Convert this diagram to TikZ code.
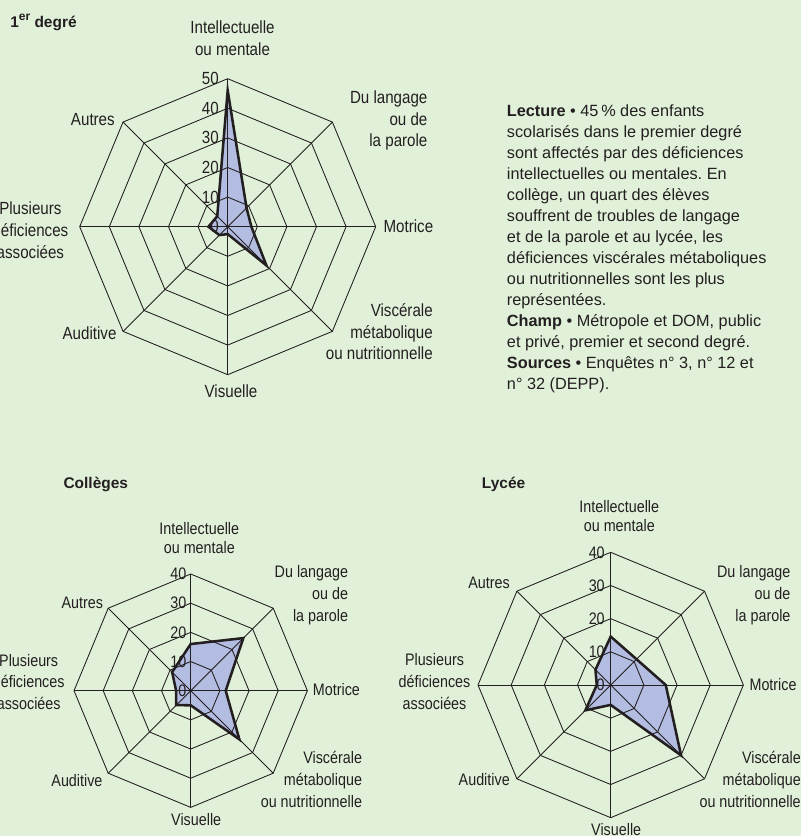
\documentclass[tikz,border=0pt]{standalone}
\usepackage{fontspec}
\setmainfont{Liberation Sans}
\newfontfamily\narrowfont[FakeStretch=0.86]{Liberation Sans}
\frenchspacing
\usetikzlibrary{positioning}
\definecolor{bggreen}{HTML}{E1F1D9}
\definecolor{radarfill}{HTML}{B3BCE1}
\definecolor{ink}{HTML}{231F20}
\tikzset{web/.style = {draw = ink, line width = 0.65pt, line join = miter}}
\tikzset{dataline/.style = {draw = ink, line width = 1.9pt, line join = miter}}
\tikzset{areafill/.style = {fill = radarfill}}
\tikzset{lblA/.style = {font = \narrowfont\fontsize{13.2}{16.3}\selectfont, text = ink, inner sep = 0}}
\tikzset{lblB/.style = {font = \narrowfont\fontsize{12.5}{16.3}\selectfont, text = ink, inner sep = 0}}
\tikzset{lblBtight/.style = {lblB, font = \narrowfont\fontsize{12.5}{13.6}\selectfont}}
\tikzset{ticklbl/.style = {anchor = east, inner ysep = 0}}
\tikzset{charttitle/.style = {font = \bfseries\fontsize{11.6}{14}\selectfont, text = ink, inner sep = 0, anchor = base west}}
\tikzset{readbox/.style = {font = \fontsize{12.2}{15.75}\selectfont, text = ink, align = left, inner sep = 0}}

\begin{document}
\begin{tikzpicture}[x = 0.75pt, y = 0.75pt]
  \useasboundingbox (0, 0) rectangle (801, -836);
  \fill [bggreen] (0, 0) rectangle (801, -836);

  % premier degre
  \begin{scope}[shift = {(227.7, -226.7)}, scale = 2.96]
    \foreach \v [count = \i] in {46, 9, 8, 18.5, 2.5, 4, 6.5, 5}
      \coordinate (a\i) at ({135 - 45*\i}:\v);
    \fill [areafill] (a1) \foreach \i in {2, ..., 8} {-- (a\i)} -- cycle;
    \foreach \r in {10, 20, ..., 50}
      \draw [web] (0:\r) \foreach \a in {45, 90, ..., 315} {-- (\a:\r)} -- cycle;
    \foreach \a in {0, 45, ..., 315}
      \draw [web] (0, 0) -- (\a:50);
    \foreach \r in {0, 10, ..., 50}
      \node [lblA, ticklbl, inner xsep = 6.5pt] at (90:\r) {\r};
    \draw [dataline] (a1) \foreach \i in {2, ..., 8} {-- (a\i)} -- cycle;
  \end{scope}
  \node [charttitle] (title1) at (10, -27.3) {1\raisebox{0.42em}{\fontsize{9}{9}\selectfont er} degré};
  \node [lblA, align = center] (intel1) at (232.5, -38.5) {Intellectuelle\\ou mentale};
  \node [lblA, align = right, anchor = east] (lang1) at (427.7, -120.7) {Du langage\\ou de\\la parole};
  \node [lblA, anchor = west] (mot1) at (383.3, -226) {Motrice};
  \node [lblA, align = right, anchor = east] (visc1) at (433, -331.7) {Viscérale\\métabolique\\ou nutritionnelle};
  \node [lblA] (visu1) at (231, -391.7) {Visuelle};
  \node [lblA, anchor = east] (audi1) at (116.7, -333.3) {Auditive};
  \node [lblA, align = center] (plus1) at (30.4, -230.3) {Plusieurs\\déficiences\\associées};
  \node [lblA, anchor = east] (autr1) at (115, -120) {Autres};

  % colleges
  \begin{scope}[shift = {(190.7, -690.7)}, scale = 2.917]
    \foreach \v [count = \i] in {16, 25.5, 12, 23.6, 5, 7, 5, 9}
      \coordinate (b\i) at ({135 - 45*\i}:\v);
    \fill [areafill] (b1) \foreach \i in {2, ..., 8} {-- (b\i)} -- cycle;
    \foreach \r in {10, 20, ..., 40}
      \draw [web] (0:\r) \foreach \a in {45, 90, ..., 315} {-- (\a:\r)} -- cycle;
    \foreach \a in {0, 45, ..., 315}
      \draw [web] (0, 0) -- (\a:40);
    \foreach \r in {0, 10, ..., 40}
      \node [lblB, ticklbl, inner xsep = 3pt] at (90:\r) {\r};
    \draw [dataline] (b1) \foreach \i in {2, ..., 8} {-- (b\i)} -- cycle;
  \end{scope}
  \node [charttitle] (title2) at (63.3, -488) {Collèges};
  \node [lblBtight, align = center] (intel2) at (199.3, -538) {Intellectuelle\\ou mentale};
  \node [lblB, align = right, anchor = east] (lang2) at (348.3, -595) {Du langage\\ou de\\la parole};
  \node [lblB, anchor = west] (mot2) at (312.7, -689.3) {Motrice};
  \node [lblB, align = right, anchor = east] (visc2) at (362.3, -779.5) {Viscérale\\métabolique\\ou nutritionnelle};
  \node [lblB] (visu2) at (196.2, -820) {Visuelle};
  \node [lblB, anchor = east] (audi2) at (102.7, -780.7) {Auditive};
  \node [lblB, align = center] (plus2) at (28.7, -681.8) {Plusieurs\\déficiences\\associées};
  \node [lblB, anchor = east] (autr2) at (103.3, -602.7) {Autres};

  % lycee
  \begin{scope}[shift = {(610.7, -685)}, scale = 3.317]
    \foreach \v [count = \i] in {14.6, 11, 16.6, 30, 6, 10.8, 4.2, 6.5}
      \coordinate (c\i) at ({135 - 45*\i}:\v);
    \fill [areafill] (c1) \foreach \i in {2, ..., 8} {-- (c\i)} -- cycle;
    \foreach \r in {10, 20, ..., 40}
      \draw [web] (0:\r) \foreach \a in {45, 90, ..., 315} {-- (\a:\r)} -- cycle;
    \foreach \a in {0, 45, ..., 315}
      \draw [web] (0, 0) -- (\a:40);
    \foreach \r in {0, 10, ..., 40}
      \node [lblB, ticklbl, inner xsep = 4.3pt] at (90:\r) {\r};
    \draw [dataline] (c1) \foreach \i in {2, ..., 8} {-- (c\i)} -- cycle;
  \end{scope}
  \node [charttitle] (title3) at (481.7, -488) {Lycée};
  \node [lblBtight, align = center] (intel3) at (619.3, -516) {Intellectuelle\\ou mentale};
  \node [lblB, align = right, anchor = east] (lang3) at (790.7, -595) {Du langage\\ou de\\la parole};
  \node [lblB, anchor = west] (mot3) at (749.3, -684.3) {Motrice};
  \node [lblB, align = right, anchor = east] (visc3) at (801, -779.5) {Viscérale\\métabolique\\ou nutritionnelle};
  \node [lblB] (visu3) at (616.2, -830) {Visuelle};
  \node [lblB, anchor = east] (audi3) at (510, -780) {Auditive};
  \node [lblB, align = center] (plus3) at (434.5, -681.7) {Plusieurs\\déficiences\\associées};
  \node [lblB, anchor = east] (autr3) at (510, -583.3) {Autres};

  % texte de lecture
  \node [readbox, anchor = north west] (lecture) at (506.7, -104) {%
    \textbf{Lecture} • 45\,\% des enfants\\
    scolarisés dans le premier degré\\
    sont affectés par des déficiences\\
    intellectuelles ou mentales. En\\
    collège, un quart des élèves\\
    souffrent de troubles de langage\\
    et de la parole et au lycée, les\\
    déficiences viscérales métaboliques\\
    ou nutritionnelles sont les plus\\
    représentées.\\
    \textbf{Champ} • Métropole et DOM, public\\
    et privé, premier et second degré.\\
    \textbf{Sources} • Enquêtes n° 3, n° 12 et\\
    n° 32 (DEPP).};
\end{tikzpicture}
\end{document}
